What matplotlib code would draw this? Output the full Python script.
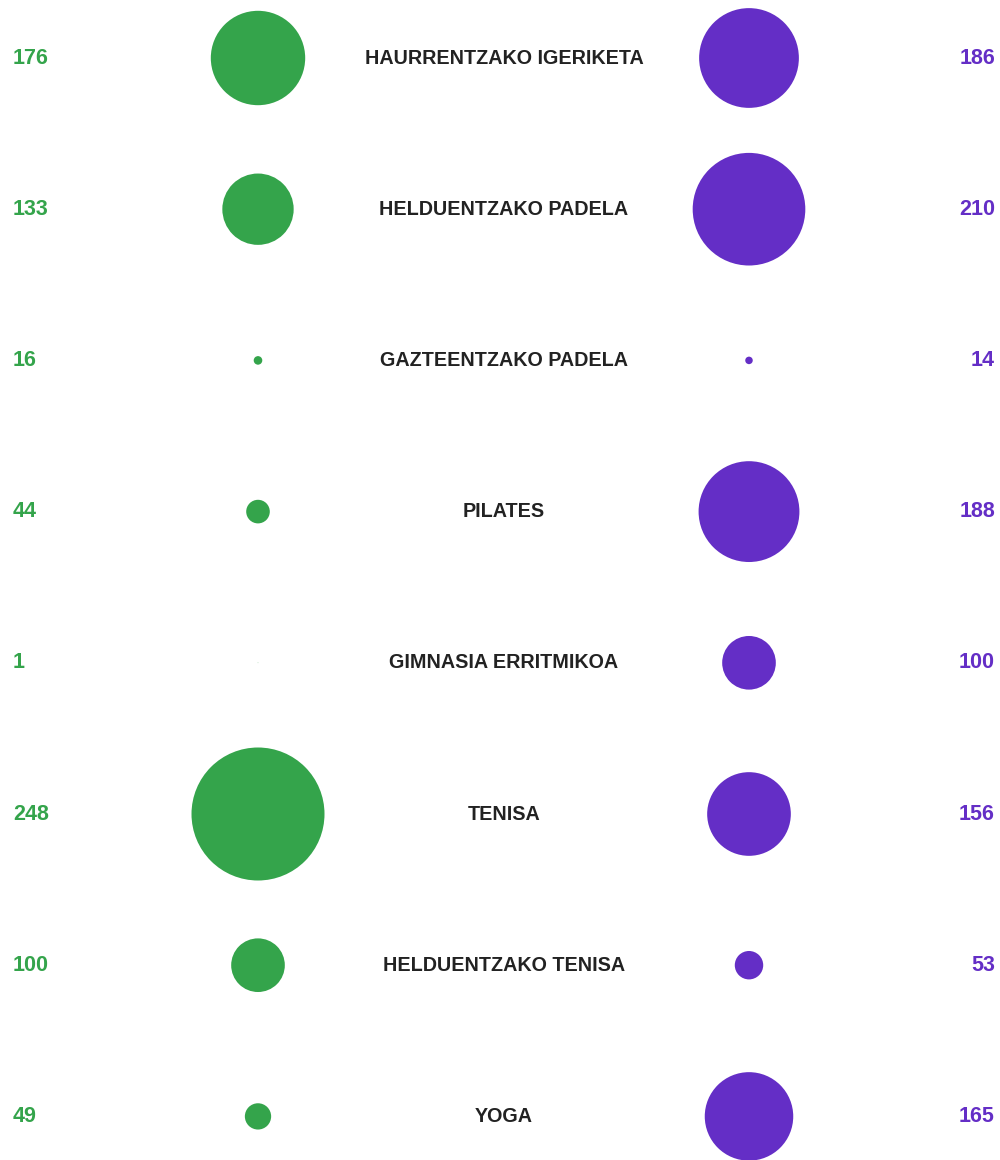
import matplotlib.pyplot as plt
from matplotlib.patches import Circle

# activity names and counts for the two groups
activities = [
    "HAURRENTZAKO IGERIKETA",
    "HELDUENTZAKO PADELA",
    "GAZTEENTZAKO PADELA",
    "PILATES",
    "GIMNASIA ERRITMIKOA",
    "TENISA",
    "HELDUENTZAKO TENISA",
    "YOGA",
]
green_values = [176, 133, 16, 44, 1, 248, 100, 49]
purple_values = [186, 210, 14, 188, 100, 156, 53, 165]

GREEN = "#34a44b"
PURPLE = "#642ec6"
DARK = "#222222"

# layout in pixel units
ROW_TOP = 58
ROW_STEP = 151.2
GREEN_X = 258
LABEL_X = 504
PURPLE_X = 749
RADIUS_PER_UNIT = 66.5 / 248

fig = plt.figure(figsize=(10, 11.6), dpi=100)
ax = fig.add_axes([0, 0, 1, 1])
ax.set_xlim(0, 1000)
ax.set_ylim(1160, 0)
ax.set_aspect("equal")
ax.axis("off")

label_font = dict(family=["Liberation Sans", "DejaVu Sans"], fontweight="bold", fontsize=14.2)
num_font = dict(family=["Liberation Sans", "DejaVu Sans"], fontweight="bold", fontsize=15.5)

for i, name in enumerate(activities):
    y = ROW_TOP + i * ROW_STEP
    g = green_values[i]
    p = purple_values[i]

    ax.add_patch(Circle((GREEN_X, y), g * RADIUS_PER_UNIT, color=GREEN, lw=0))
    ax.add_patch(Circle((PURPLE_X, y), p * RADIUS_PER_UNIT, color=PURPLE, lw=0))

    ax.text(13, y, str(g), color=GREEN, ha="left", va="center", **num_font)
    ax.text(LABEL_X, y, name, color=DARK, ha="center", va="center", **label_font)
    ax.text(995, y, str(p), color=PURPLE, ha="right", va="center", **num_font)

fig.savefig("out.png", dpi=100, facecolor="white")
